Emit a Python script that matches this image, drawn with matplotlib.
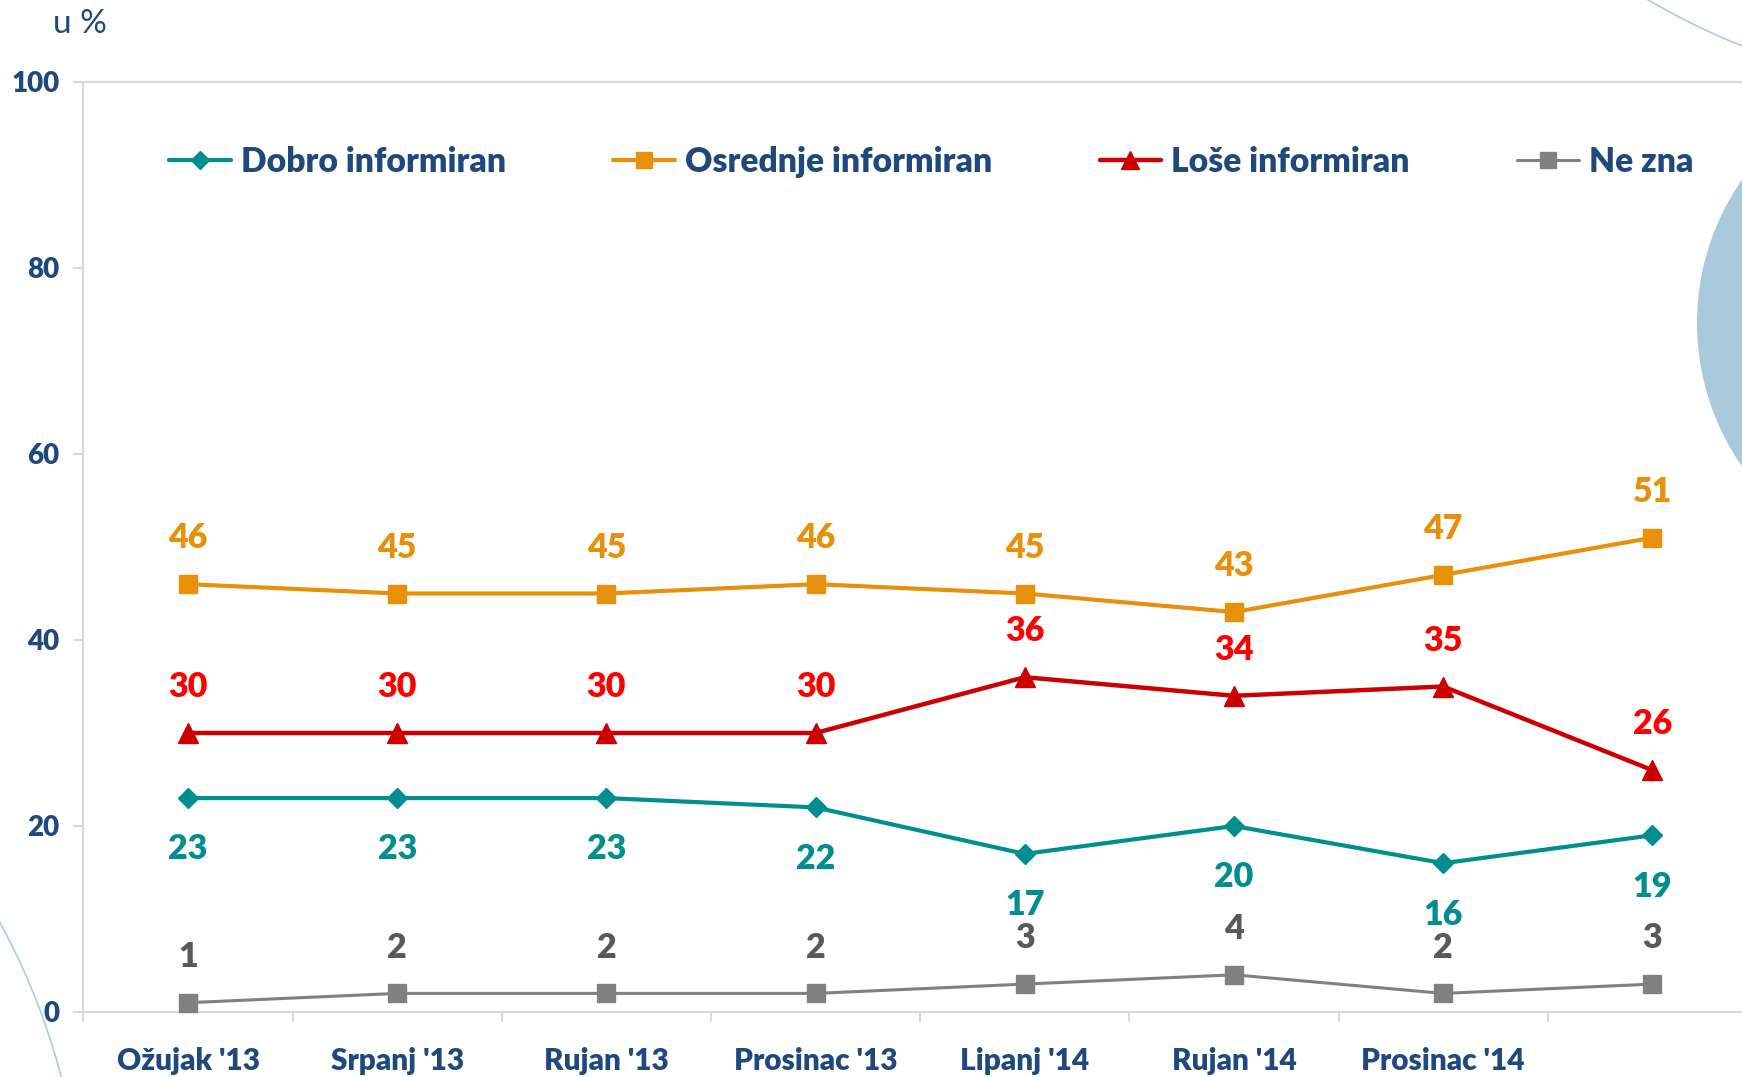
import matplotlib
matplotlib.use("Agg")
import matplotlib.pyplot as plt
from matplotlib.lines import Line2D
from matplotlib.patches import Circle

# ---- data ----
categories = ["Ožujak '13", "Srpanj '13", "Rujan '13", "Prosinac '13",
              "Lipanj '14", "Rujan '14", "Prosinac '14", ""]
dobro = [23, 23, 23, 22, 17, 20, 16, 19]
osrednje = [46, 45, 45, 46, 45, 43, 47, 51]
lose = [30, 30, 30, 30, 36, 34, 35, 26]
ne_zna = [1, 2, 2, 2, 3, 4, 2, 3]
series_names = ["Dobro informiran", "Osrednje informiran", "Loše informiran", "Ne zna"]
y_ticks = [0, 20, 40, 60, 80, 100]

plt.rcParams['font.family'] = ['Lato', 'DejaVu Sans']
BOLD = 'heavy'

W, H = 1742, 1077
fig = plt.figure(figsize=(W / 100, H / 100), dpi=100)
fig.patch.set_facecolor('white')

# background decoration axes (pixel coordinates)
bg = fig.add_axes([0, 0, 1, 1], zorder=0)
bg.set_xlim(0, W)
bg.set_ylim(H, 0)
bg.axis('off')
bg.add_patch(Circle((1948, 323), 251, facecolor='#A9CADC', edgecolor='none'))
bg.add_patch(Circle((-600, 1250), 683.5, facecolor='none', edgecolor='#A8CFE0', lw=1.2))
bg.add_patch(Circle((2000, -600), 695.5, facecolor='none', edgecolor='#A8CFE0', lw=1.2))

# main axes
left_px, right_px, top_px, bottom_px = 83.4, 1757, 82, 1012
ax = fig.add_axes([left_px / W, 1 - bottom_px / H, (right_px - left_px) / W, (bottom_px - top_px) / H],
                  zorder=1)
ax.set_facecolor('none')
x = list(range(len(categories)))
ax.set_xlim(-0.5, len(categories) - 0.5)
ax.set_ylim(0, 100)

dark_blue = '#1F497D'
teal = '#008E8E'
orange = '#E8900A'
red_line = '#CC0000'
red_lbl = '#FF0000'
gray_line = '#808080'
gray_lbl = '#595959'

specs = [
    (dobro, teal, 'D', 10.5, 3.0, teal, -37.0),
    (osrednje, orange, 's', 13, 3.0, orange, 33.0),
    (lose, red_line, '^', 14.5, 3.2, red_lbl, 33.0),
    (ne_zna, gray_line, 's', 13, 2.2, gray_lbl, 33.0),
]
handles = []
for (vals, col, mk, ms, lw, lcol, off), name in zip(specs, series_names):
    ax.plot(x, vals, color=col, marker=mk, markersize=ms, lw=lw,
            markeredgecolor=col, markerfacecolor=col, clip_on=False, zorder=3,
            solid_capstyle='round')
    handles.append(Line2D([], [], color=col, marker=mk, markersize=ms * 0.85, lw=lw,
                          markeredgecolor=col, markerfacecolor=col, solid_capstyle='round'))
    for xi, v in zip(x, vals):
        ax.annotate(str(v), (xi, v), xytext=(0, off), textcoords='offset points',
                    ha='center', va='center', fontsize=24.5, fontweight=BOLD, color=lcol,
                    zorder=4)

# spines and ticks
for s in ['top', 'right']:
    ax.spines[s].set_visible(False)
for s in ['left', 'bottom']:
    ax.spines[s].set_color('#D9D9D9')
    ax.spines[s].set_linewidth(1.5)
ax.axhline(100, color='#D9D9D9', lw=1.5, zorder=1, clip_on=False)

ax.set_yticks(y_ticks)
ax.set_yticklabels([str(t) for t in y_ticks])
ax.tick_params(axis='y', length=7.2, width=1.5, color='#D9D9D9', pad=10,
               labelsize=20, labelcolor=dark_blue)
for lbl in ax.get_yticklabels():
    lbl.set_fontweight(BOLD)

ax.set_xticks([i - 0.5 for i in range(len(categories) + 1)])
ax.set_xticklabels([])
ax.set_xticks(x, minor=True)
ax.set_xticklabels(categories, minor=True)
ax.tick_params(axis='x', which='major', length=7.2, width=1.5, color='#D9D9D9')
ax.tick_params(axis='x', which='minor', length=0, pad=25, labelsize=21.4, labelcolor=dark_blue)
for lbl in ax.get_xticklabels(minor=True):
    lbl.set_fontweight(BOLD)

# unit label
fig.text(53 / W, 1 - 24 / H, 'u %', fontsize=24, color=dark_blue, ha='left', va='center')

# legend
leg = ax.legend(handles, series_names, ncol=4, loc='center left',
                bbox_to_anchor=(169 / W, 1 - 161.5 / H), bbox_transform=fig.transFigure,
                frameon=False, prop={'size': 24.2, 'weight': BOLD}, labelcolor=dark_blue,
                handlelength=1.83, handletextpad=0.3, columnspacing=3.2, borderpad=0,
                borderaxespad=0, numpoints=1)

fig.savefig('out.png', dpi=100, facecolor='white')
